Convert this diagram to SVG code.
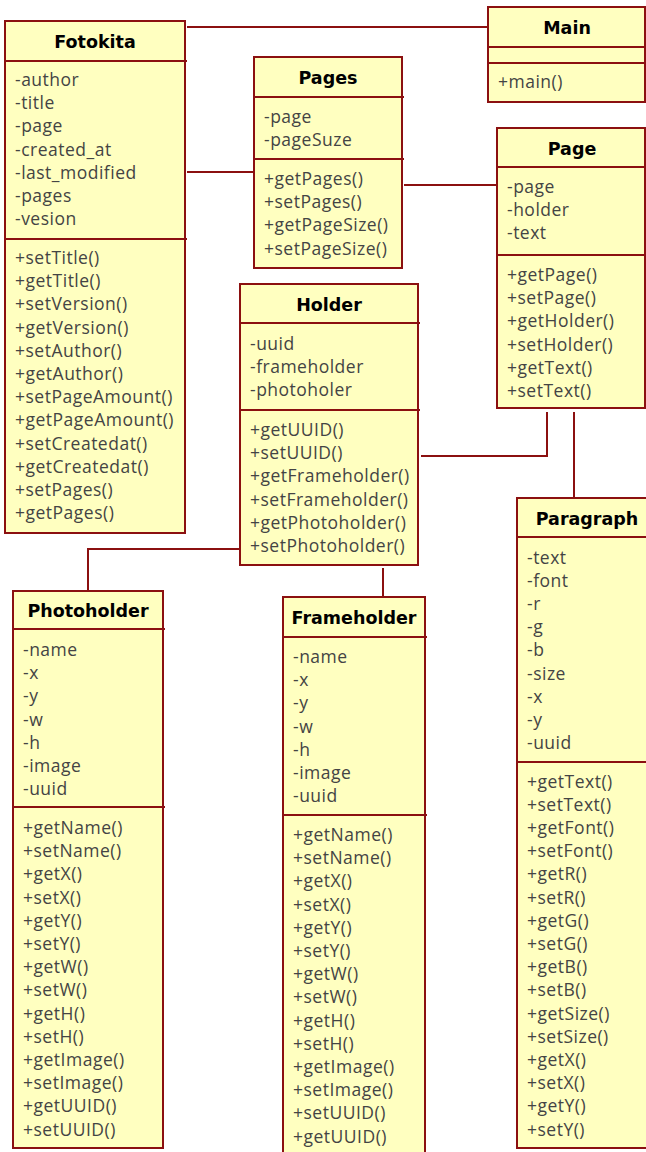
<svg xmlns="http://www.w3.org/2000/svg" width="646" height="1152" viewBox="0 0 646 1152">
<style>
.box{fill:#FFFFC0;stroke:#8B1010;stroke-width:2}
.div{stroke:#8B1010;stroke-width:2;fill:none}
.conn{stroke:#8B1010;stroke-width:2;fill:none}
.t{font-family:"DejaVu Sans",sans-serif;font-weight:bold;font-size:17.5px;fill:#000;text-anchor:middle}
.m{font-family:"Open Sans","DejaVu Sans",sans-serif;font-size:17.5px;fill:#444;letter-spacing:0.5px}
</style>
<rect width="646" height="1152" fill="#fff"/>
<g id="connectors">
<line class="conn" x1="187" y1="27" x2="488" y2="27"/>
<line class="conn" x1="187" y1="172" x2="254" y2="172"/>
<line class="conn" x1="404" y1="185" x2="497" y2="185"/>
<polyline class="conn" points="547,412 547,456 421,456"/>
<line class="conn" x1="574" y1="412" x2="574" y2="498"/>
<polyline class="conn" points="240,549 88,549 88,591"/>
<line class="conn" x1="383" y1="568" x2="383" y2="597"/>
</g>
<g id="Fotokita">
<rect class="box" x="5" y="21" width="180" height="512"/>
<line class="div" x1="5" y1="61" x2="187" y2="61"/>
<line class="div" x1="5" y1="239" x2="187" y2="239"/>
<text class="t" x="95" y="47.5">Fotokita</text>
<text class="m" x="15" y="86">-author</text>
<text class="m" x="15" y="109.2">-title</text>
<text class="m" x="15" y="132.4">-page</text>
<text class="m" x="15" y="155.6">-created_at</text>
<text class="m" x="15" y="178.8">-last_modified</text>
<text class="m" x="15" y="202">-pages</text>
<text class="m" x="15" y="225.2">-vesion</text>
<text class="m" x="15" y="264">+setTitle()</text>
<text class="m" x="15" y="287.2">+getTitle()</text>
<text class="m" x="15" y="310.4">+setVersion()</text>
<text class="m" x="15" y="333.6">+getVersion()</text>
<text class="m" x="15" y="356.8">+setAuthor()</text>
<text class="m" x="15" y="380">+getAuthor()</text>
<text class="m" x="15" y="403.2">+setPageAmount()</text>
<text class="m" x="15" y="426.4">+getPageAmount()</text>
<text class="m" x="15" y="449.6">+setCreatedat()</text>
<text class="m" x="15" y="472.8">+getCreatedat()</text>
<text class="m" x="15" y="496">+setPages()</text>
<text class="m" x="15" y="519.2">+getPages()</text>
</g>
<g id="Main">
<rect class="box" x="488" y="7" width="157" height="95"/>
<line class="div" x1="488" y1="47" x2="646" y2="47"/>
<line class="div" x1="488" y1="63" x2="646" y2="63"/>
<text class="t" x="567" y="33.5">Main</text>
<text class="m" x="498" y="88">+main()</text>
</g>
<g id="Pages">
<rect class="box" x="254" y="57" width="148" height="211"/>
<line class="div" x1="254" y1="97" x2="404" y2="97"/>
<line class="div" x1="254" y1="159" x2="404" y2="159"/>
<text class="t" x="328" y="83.5">Pages</text>
<text class="m" x="264" y="122.5">-page</text>
<text class="m" x="264" y="145.7">-pageSuze</text>
<text class="m" x="264" y="185">+getPages()</text>
<text class="m" x="264" y="208.2">+setPages()</text>
<text class="m" x="264" y="231.4">+getPageSize()</text>
<text class="m" x="264" y="254.6">+setPageSize()</text>
</g>
<g id="Page">
<rect class="box" x="497" y="128" width="148" height="280"/>
<line class="div" x1="497" y1="167" x2="646" y2="167"/>
<line class="div" x1="497" y1="255" x2="646" y2="255"/>
<text class="t" x="572" y="154.5">Page</text>
<text class="m" x="507" y="193">-page</text>
<text class="m" x="507" y="216.2">-holder</text>
<text class="m" x="507" y="239.4">-text</text>
<text class="m" x="507" y="281">+getPage()</text>
<text class="m" x="507" y="304.2">+setPage()</text>
<text class="m" x="507" y="327.4">+getHolder()</text>
<text class="m" x="507" y="350.6">+setHolder()</text>
<text class="m" x="507" y="373.8">+getText()</text>
<text class="m" x="507" y="397">+setText()</text>
</g>
<g id="Holder">
<rect class="box" x="240" y="284" width="178" height="281"/>
<line class="div" x1="240" y1="323" x2="420" y2="323"/>
<line class="div" x1="240" y1="410" x2="420" y2="410"/>
<text class="t" x="329" y="310.5">Holder</text>
<text class="m" x="250" y="350">-uuid</text>
<text class="m" x="250" y="373.2">-frameholder</text>
<text class="m" x="250" y="396.4">-photoholer</text>
<text class="m" x="250" y="436">+getUUID()</text>
<text class="m" x="250" y="459.2">+setUUID()</text>
<text class="m" x="250" y="482.4">+getFrameholder()</text>
<text class="m" x="250" y="505.6">+setFrameholder()</text>
<text class="m" x="250" y="528.8">+getPhotoholder()</text>
<text class="m" x="250" y="552">+setPhotoholder()</text>
</g>
<g id="Photoholder">
<rect class="box" x="13" y="591" width="150" height="557"/>
<line class="div" x1="13" y1="629" x2="165" y2="629"/>
<line class="div" x1="13" y1="807" x2="165" y2="807"/>
<text class="t" x="88" y="617">Photoholder</text>
<text class="m" x="23" y="656">-name</text>
<text class="m" x="23" y="679.2">-x</text>
<text class="m" x="23" y="702.4">-y</text>
<text class="m" x="23" y="725.6">-w</text>
<text class="m" x="23" y="748.8">-h</text>
<text class="m" x="23" y="772">-image</text>
<text class="m" x="23" y="795.2">-uuid</text>
<text class="m" x="23" y="834">+getName()</text>
<text class="m" x="23" y="857.2">+setName()</text>
<text class="m" x="23" y="880.4">+getX()</text>
<text class="m" x="23" y="903.6">+setX()</text>
<text class="m" x="23" y="926.8">+getY()</text>
<text class="m" x="23" y="950">+setY()</text>
<text class="m" x="23" y="973.2">+getW()</text>
<text class="m" x="23" y="996.4">+setW()</text>
<text class="m" x="23" y="1019.6">+getH()</text>
<text class="m" x="23" y="1042.8">+setH()</text>
<text class="m" x="23" y="1066">+getImage()</text>
<text class="m" x="23" y="1089.2">+setImage()</text>
<text class="m" x="23" y="1112.4">+getUUID()</text>
<text class="m" x="23" y="1135.6">+setUUID()</text>
</g>
<g id="Frameholder">
<rect class="box" x="283" y="597" width="142" height="570"/>
<line class="div" x1="283" y1="637" x2="427" y2="637"/>
<line class="div" x1="283" y1="815" x2="427" y2="815"/>
<text class="t" x="354" y="623.5">Frameholder</text>
<text class="m" x="293" y="663">-name</text>
<text class="m" x="293" y="686.2">-x</text>
<text class="m" x="293" y="709.4">-y</text>
<text class="m" x="293" y="732.6">-w</text>
<text class="m" x="293" y="755.8">-h</text>
<text class="m" x="293" y="779">-image</text>
<text class="m" x="293" y="802.2">-uuid</text>
<text class="m" x="293" y="841">+getName()</text>
<text class="m" x="293" y="864.2">+setName()</text>
<text class="m" x="293" y="887.4">+getX()</text>
<text class="m" x="293" y="910.6">+setX()</text>
<text class="m" x="293" y="933.8">+getY()</text>
<text class="m" x="293" y="957">+setY()</text>
<text class="m" x="293" y="980.2">+getW()</text>
<text class="m" x="293" y="1003.4">+setW()</text>
<text class="m" x="293" y="1026.6">+getH()</text>
<text class="m" x="293" y="1049.8">+setH()</text>
<text class="m" x="293" y="1073">+getImage()</text>
<text class="m" x="293" y="1096.2">+setImage()</text>
<text class="m" x="293" y="1119.4">+setUUID()</text>
<text class="m" x="293" y="1142.6">+getUUID()</text>
</g>
<g id="Paragraph">
<rect class="box" x="517" y="498" width="135" height="650"/>
<line class="div" x1="517" y1="537" x2="646" y2="537"/>
<line class="div" x1="517" y1="762" x2="646" y2="762"/>
<text class="t" x="587" y="524.5">Paragraph</text>
<text class="m" x="527" y="563.5">-text</text>
<text class="m" x="527" y="586.7">-font</text>
<text class="m" x="527" y="609.9">-r</text>
<text class="m" x="527" y="633.1">-g</text>
<text class="m" x="527" y="656.3">-b</text>
<text class="m" x="527" y="679.5">-size</text>
<text class="m" x="527" y="702.7">-x</text>
<text class="m" x="527" y="725.9">-y</text>
<text class="m" x="527" y="749.1">-uuid</text>
<text class="m" x="527" y="787.5">+getText()</text>
<text class="m" x="527" y="810.7">+setText()</text>
<text class="m" x="527" y="833.9">+getFont()</text>
<text class="m" x="527" y="857.1">+setFont()</text>
<text class="m" x="527" y="880.3">+getR()</text>
<text class="m" x="527" y="903.5">+setR()</text>
<text class="m" x="527" y="926.7">+getG()</text>
<text class="m" x="527" y="949.9">+setG()</text>
<text class="m" x="527" y="973.1">+getB()</text>
<text class="m" x="527" y="996.3">+setB()</text>
<text class="m" x="527" y="1019.5">+getSize()</text>
<text class="m" x="527" y="1042.7">+setSize()</text>
<text class="m" x="527" y="1065.9">+getX()</text>
<text class="m" x="527" y="1089.1">+setX()</text>
<text class="m" x="527" y="1112.3">+getY()</text>
<text class="m" x="527" y="1135.5">+setY()</text>
</g>
</svg>
